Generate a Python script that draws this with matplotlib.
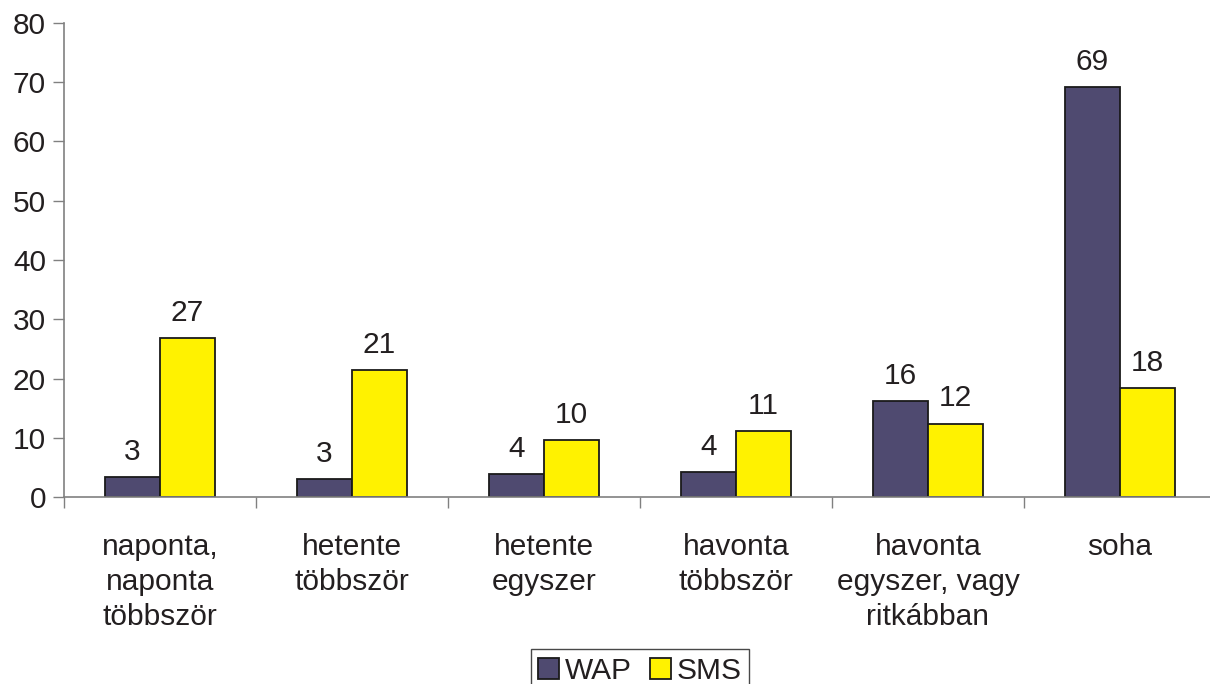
import numpy as np
import matplotlib.pyplot as plt

plt.rcParams['font.family'] = ['Liberation Sans', 'DejaVu Sans']

# adatok
categories = ['naponta,\nnaponta\ntöbbször', 'hetente\ntöbbször', 'hetente\negyszer',
              'havonta\ntöbbször', 'havonta\negyszer, vagy\nritkábban', 'soha']
wap = [3.4, 3.1, 3.9, 4.2, 16.2, 69.2]
sms = [26.9, 21.4, 9.6, 11.1, 12.4, 18.4]
yticks = [0, 10, 20, 30, 40, 50, 60, 70, 80]

txt = '#231f20'
fs = 21.5

fig = plt.figure(figsize=(12.1, 6.84), dpi=100)
ax = fig.add_axes([64 / 1210, 1 - 497 / 684, 1152 / 1210, 474 / 684])

x = np.arange(len(categories))
w = 0.286
b1 = ax.bar(x - w / 2, wap, w, color='#4f4a70', edgecolor='#1a1a1a', linewidth=1.3, label='WAP')
b2 = ax.bar(x + w / 2, sms, w, color='#fff200', edgecolor='#1a1a1a', linewidth=1.3, label='SMS')
for bars in (b1, b2):
    ax.bar_label(bars, fmt='%.0f', padding=8, fontsize=fs, color=txt)

ax.set_xlim(-0.5, len(categories) - 0.5)
ax.set_ylim(0, 80)
ax.set_yticks(yticks)
ax.tick_params(axis='y', labelsize=fs, labelcolor=txt, length=8, color='#808080', width=1, pad=5)

ax.set_xticks(x)
ax.set_xticklabels(categories, linespacing=1.32)
ax.set_xticks(np.arange(len(categories) + 1) - 0.5, minor=True)
ax.tick_params(axis='x', which='major', length=0, labelsize=fs, labelcolor=txt, pad=26)
ax.tick_params(axis='x', which='minor', length=8, color='#808080', width=1)

for s in ['top', 'right']:
    ax.spines[s].set_visible(False)
for s in ['left', 'bottom']:
    ax.spines[s].set_color('#808080')
    ax.spines[s].set_linewidth(1.2)

leg = fig.legend(loc='lower center', bbox_to_anchor=(640 / 1210, -0.012), ncol=2, fontsize=fs,
                 frameon=True, fancybox=False, edgecolor='#1a1a1a', handlelength=0.7,
                 handleheight=0.7, handletextpad=0.2, columnspacing=0.6, borderpad=0.25,
                 borderaxespad=0)
leg.get_frame().set_linewidth(1.0)
for t in leg.get_texts():
    t.set_color(txt)

fig.savefig('out.png', dpi=100)
